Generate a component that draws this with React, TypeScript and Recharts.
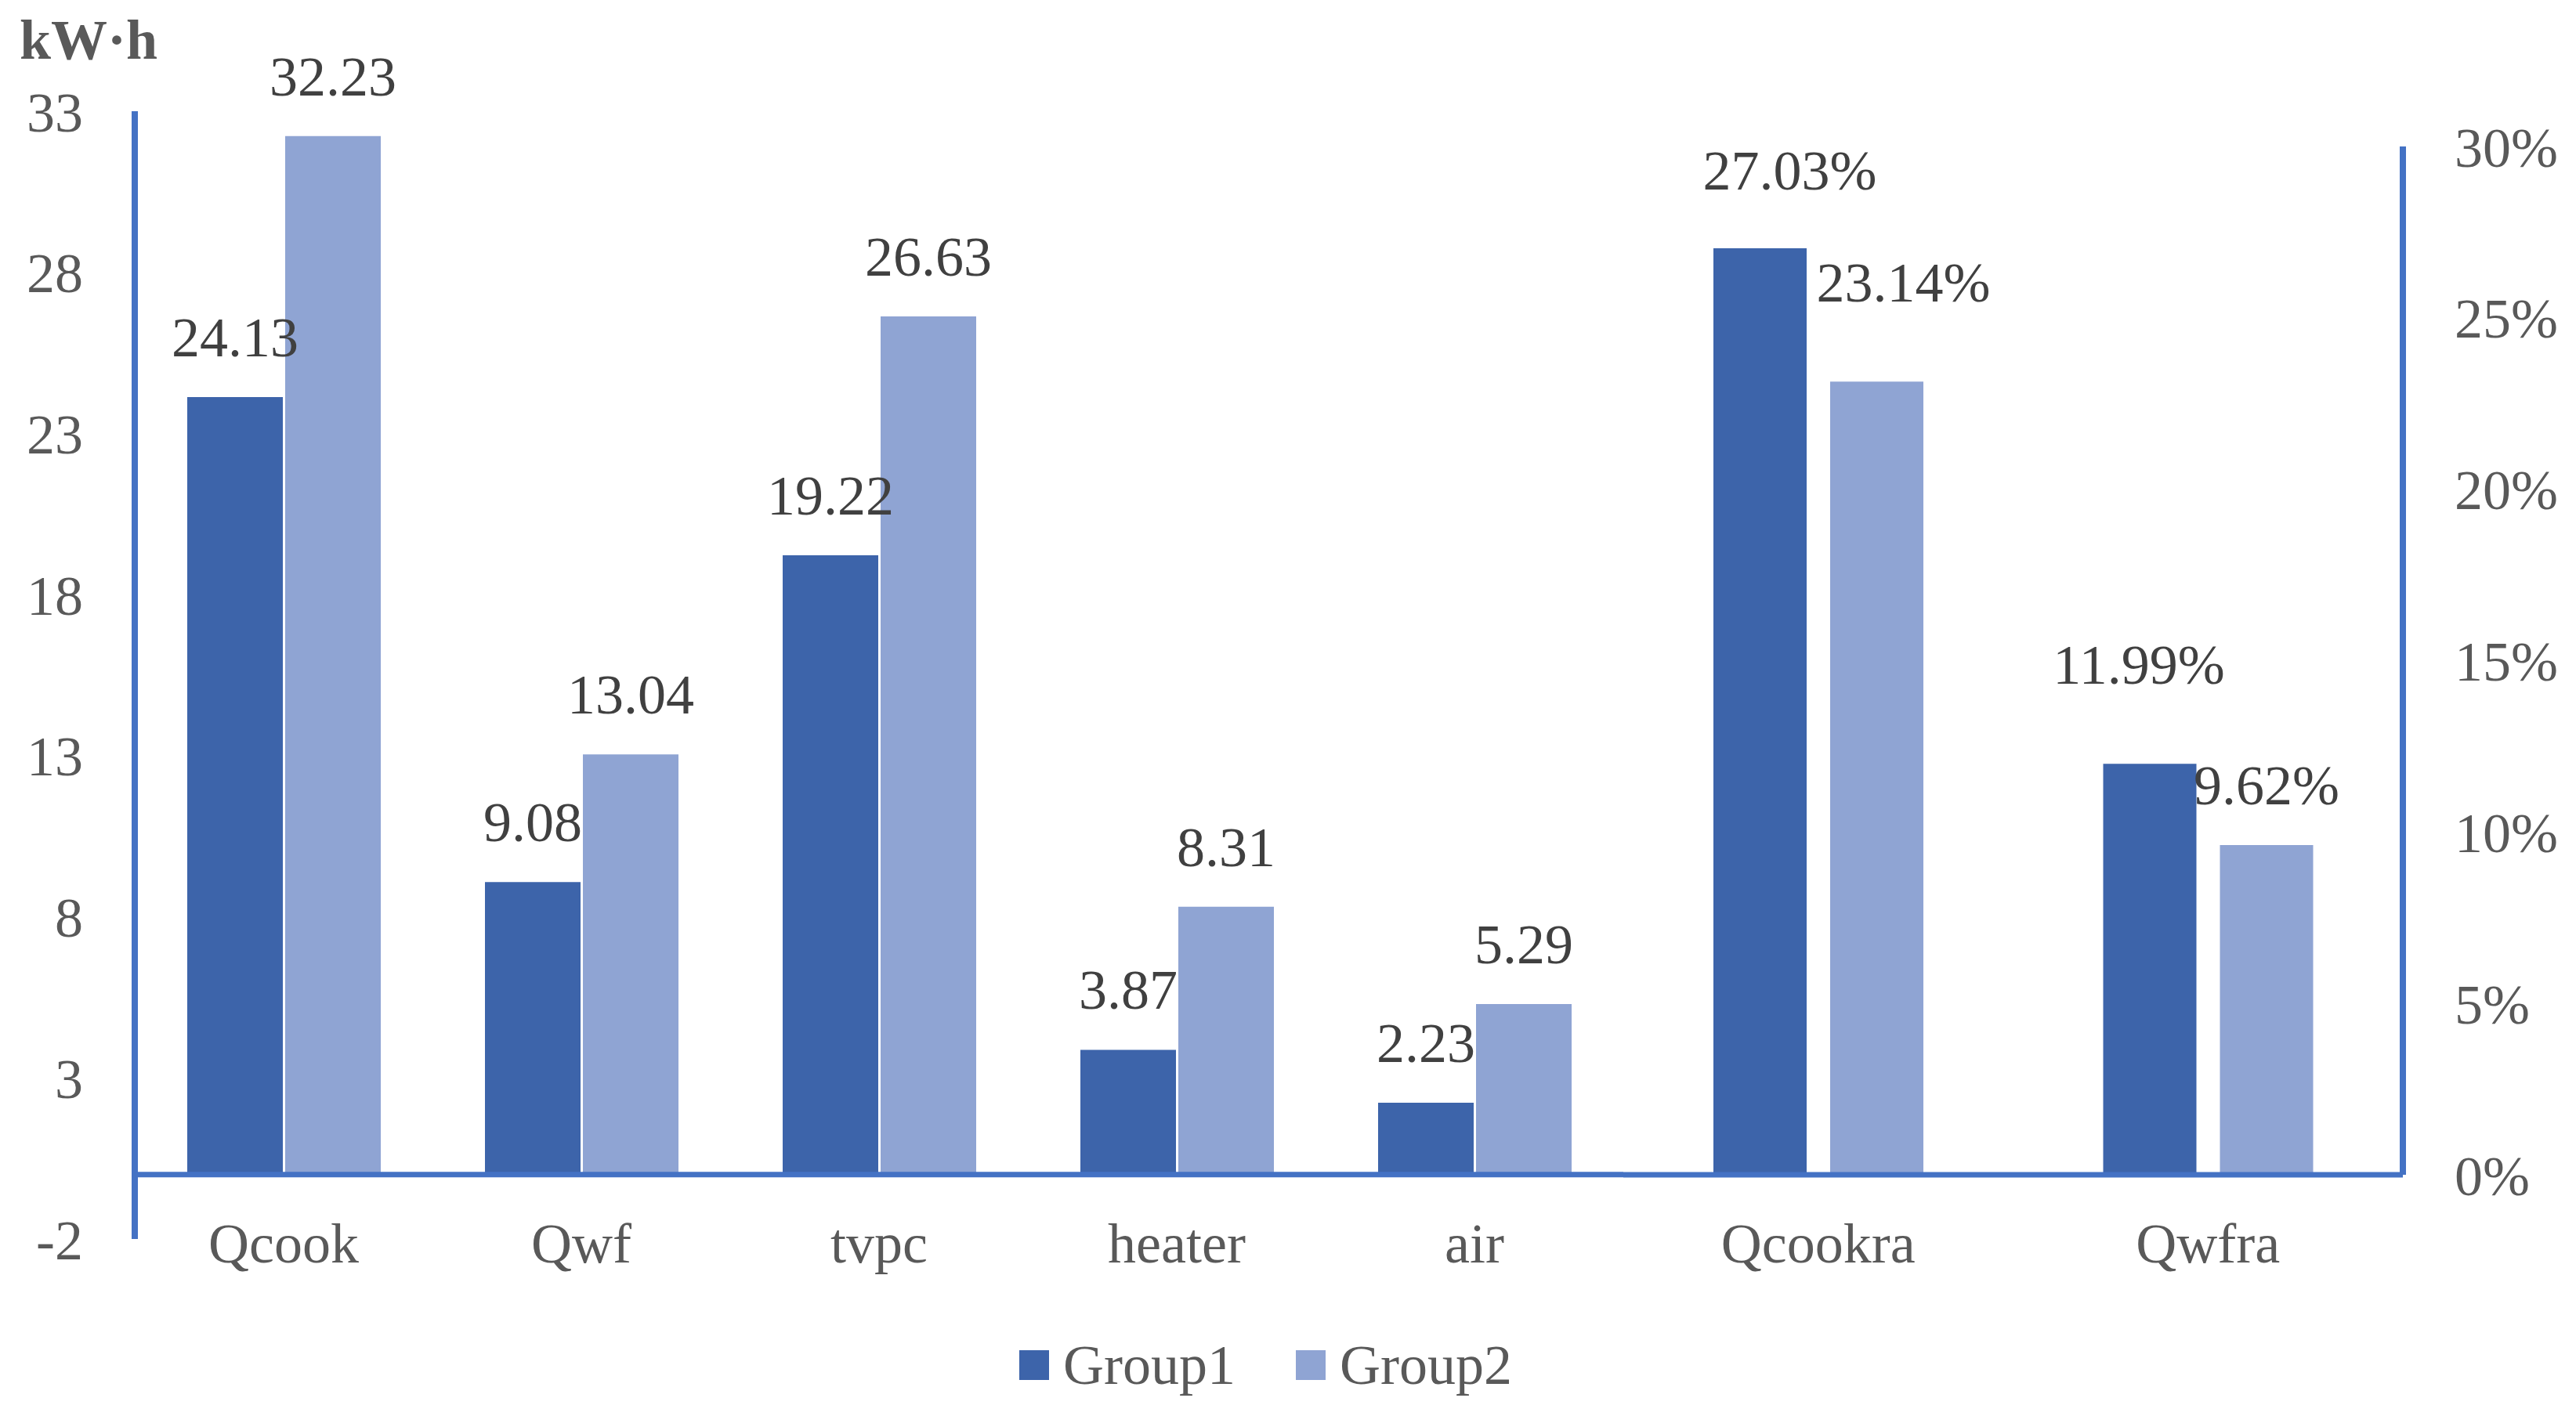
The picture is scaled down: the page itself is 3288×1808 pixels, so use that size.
import React from 'react';
import { BarChart, Bar, XAxis, YAxis, ReferenceLine, LabelList, Legend } from 'recharts';

// kW·h block (left axis)
const energyCategories = ['Qcook', 'Qwf', 'tvpc', 'heater', 'air'];
const energyGroup1 = [24.13, 9.08, 19.22, 3.87, 2.23];
const energyGroup2 = [32.23, 13.04, 26.63, 8.31, 5.29];
const energyTicks = [-2, 3, 8, 13, 18, 23, 28, 33];

// ratio block (right axis, %)
const ratioCategories = ['Qcookra', 'Qwfra'];
const ratioGroup1 = [27.03, 11.99];
const ratioGroup2 = [23.14, 9.62];
const ratioTicks = [0, 5, 10, 15, 20, 25, 30];

const seriesNames = ['Group1', 'Group2'];

const energyData = energyCategories.map((name, i) => ({ name, g1: energyGroup1[i], g2: energyGroup2[i] }));
const ratioData = ratioCategories.map((name, i) => ({ name, g1: ratioGroup1[i], g2: ratioGroup2[i] }));

const W = 3288;
const H = 1808;
const FONT = '"Liberation Serif", "Times New Roman", serif';
const AXIS = '#4472C4';
const C1 = '#3D64AA';
const C2 = '#8FA4D3';
const TICK_TXT = '#595959';
const LABEL_TXT = '#404040';
const FS = 72;

// hand-moved labels in the original percent block
const ratioLabelNudge: Record<string, Record<string, [number, number]>> = {
    g1: { Qcookra: [38, -23], Qwfra: [-14, -50] },
    g2: { Qcookra: [34, -50], Qwfra: [0, 0] },
};

const categoryTick = (shift: number) => (props: any) => {
    const { x, y, payload } = props;
    return (
        <text x={x} y={Number(y) + shift} textAnchor="middle" fill={TICK_TXT} fontSize={FS} fontFamily={FONT}>
            {payload.value}
        </text>
    );
};

const ratioLabel = (key: string) => (props: any) => {
    const { x, y, width, value, index } = props;
    const [dx, dy] = ratioLabelNudge[key][ratioCategories[index]] || [0, 0];
    return (
        <text
            x={Number(x) + Number(width) / 2 + dx}
            y={Number(y) - 52 + dy}
            textAnchor="middle"
            fill={LABEL_TXT}
            fontSize={FS}
            fontFamily={FONT}
        >
            {`${Number(value).toFixed(2)}%`}
        </text>
    );
};

const legendContent = ({ payload }: any) => (
    <div style={{ display: 'flex', alignItems: 'center', fontFamily: FONT, fontSize: FS, lineHeight: `${FS}px`, color: TICK_TXT }}>
        {(payload || []).map((entry: any) => (
            <div key={entry.value} style={{ display: 'flex', alignItems: 'center', marginRight: 77 }}>
                <span style={{ display: 'inline-block', width: 38, height: 38, background: entry.color, marginRight: 18 }} />
                <span>{entry.value}</span>
            </div>
        ))}
    </div>
);

const App: React.FC = () => {
    return (
        <div style={{ position: 'absolute', left: 0, top: 0, width: W, height: H, background: '#fff', fontFamily: FONT }}>
            <div style={{ position: 'absolute', left: 0, top: 0 }}>
                <BarChart
                    width={W}
                    height={H}
                    data={energyData}
                    margin={{ top: 142, right: 1216, bottom: 186, left: 72 }}
                    barGap={3}
                >
                    <XAxis
                        dataKey="name"
                        height={40}
                        axisLine={false}
                        tickLine={false}
                        tickSize={0}
                        tickMargin={0}
                        interval={0}
                        tick={categoryTick(30)}
                    />
                    <YAxis
                        type="number"
                        width={100}
                        domain={[-2, 33]}
                        ticks={energyTicks}
                        interval={0}
                        axisLine={{ stroke: AXIS, strokeWidth: 8 }}
                        tickLine={false}
                        tickSize={0}
                        tickMargin={66}
                        tick={{ fill: TICK_TXT, fontSize: FS, fontFamily: FONT }}
                        label={({ viewBox }: any) => (
                            <text
                                x={viewBox.x + viewBox.width - 59}
                                y={viewBox.y - 67}
                                textAnchor="middle"
                                fill={TICK_TXT}
                                fontSize={FS}
                                fontWeight="bold"
                                fontFamily={FONT}
                            >
                                kW·h
                            </text>
                        )}
                    />
                    <ReferenceLine y={0} stroke={AXIS} strokeWidth={7} />
                    <Bar dataKey="g1" name={seriesNames[0]} fill={C1} barSize={122} isAnimationActive={false}>
                        <LabelList
                            dataKey="g1"
                            position="top"
                            offset={52}
                            fill={LABEL_TXT}
                            fontSize={FS}
                            fontFamily={FONT}
                            formatter={(v: any) => Number(v).toFixed(2)}
                        />
                    </Bar>
                    <Bar dataKey="g2" name={seriesNames[1]} fill={C2} barSize={122} isAnimationActive={false}>
                        <LabelList
                            dataKey="g2"
                            position="top"
                            offset={52}
                            fill={LABEL_TXT}
                            fontSize={FS}
                            fontFamily={FONT}
                            formatter={(v: any) => Number(v).toFixed(2)}
                        />
                    </Bar>
                    <Legend
                        layout="horizontal"
                        verticalAlign="middle"
                        align="center"
                        content={legendContent}
                        wrapperStyle={{ left: 1301, top: 1707, width: 'auto' }}
                    />
                </BarChart>
            </div>
            <div style={{ position: 'absolute', left: 0, top: 0 }}>
                <BarChart
                    width={W}
                    height={H}
                    data={ratioData}
                    margin={{ top: 187, right: 71, bottom: 268, left: 2072 }}
                    barGap={30}
                >
                    <XAxis
                        dataKey="name"
                        height={40}
                        axisLine={{ stroke: AXIS, strokeWidth: 7 }}
                        tickLine={false}
                        tickSize={0}
                        tickMargin={0}
                        interval={0}
                        tick={categoryTick(112)}
                    />
                    <YAxis
                        type="number"
                        orientation="right"
                        width={150}
                        domain={[0, 30]}
                        ticks={ratioTicks}
                        interval={0}
                        axisLine={{ stroke: AXIS, strokeWidth: 8 }}
                        tickLine={false}
                        tickSize={0}
                        tickMargin={66}
                        tickFormatter={(v: number) => `${v}%`}
                        tick={{ fill: TICK_TXT, fontSize: FS, fontFamily: FONT }}
                    />
                    <Bar dataKey="g1" name={seriesNames[0]} fill={C1} barSize={119} isAnimationActive={false}>
                        <LabelList dataKey="g1" content={ratioLabel('g1')} />
                    </Bar>
                    <Bar dataKey="g2" name={seriesNames[1]} fill={C2} barSize={119} isAnimationActive={false}>
                        <LabelList dataKey="g2" content={ratioLabel('g2')} />
                    </Bar>
                </BarChart>
            </div>
        </div>
    );
};

export default App;
